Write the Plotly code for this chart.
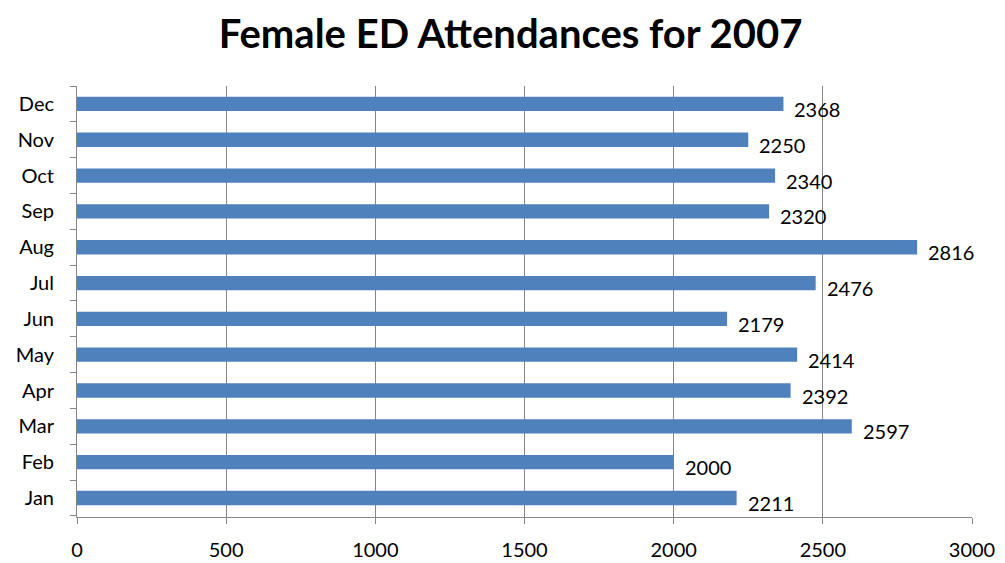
import plotly.graph_objects as go

months = ["Jan", "Feb", "Mar", "Apr", "May", "Jun", "Jul", "Aug", "Sep", "Oct", "Nov", "Dec"]
attendances = [2211, 2000, 2597, 2392, 2414, 2179, 2476, 2816, 2320, 2340, 2250, 2368]
x_ticks = [0, 500, 1000, 1500, 2000, 2500, 3000]

font_family = "Lato, 'Open Sans', sans-serif"

fig = go.Figure()
fig.add_trace(go.Bar(
    x=attendances, y=months, orientation="h",
    marker=dict(color="#4F81BD", line=dict(width=0)),
    width=0.4,
))

for m, v in zip(months, attendances):
    fig.add_annotation(x=v, y=m, text=str(v), showarrow=False,
                       xanchor="left", yanchor="middle", xshift=9, yshift=-5,
                       font=dict(family=font_family, size=20, color="black"))

fig.update_layout(
    width=1005, height=563,
    margin=dict(l=77, r=33, t=86, b=46, autoexpand=False),
    paper_bgcolor="white", plot_bgcolor="white",
    title=dict(text="<b>Female ED Attendances for 2007</b>", x=0.508, xanchor="center",
               y=0.94, yanchor="middle",
               font=dict(family=font_family, size=40, color="black")),
    showlegend=False,
    bargap=0.6,
)
fig.update_xaxes(
    range=[0, 3000], tickvals=x_ticks, showgrid=True, gridcolor="#868686", gridwidth=1,
    showline=True, linecolor="#868686", linewidth=1,
    ticks="outside", ticklen=6, tickcolor="#868686",
    tickfont=dict(family=font_family, size=20, color="black"),
    zeroline=False, mirror=False, ticklabelstandoff=9, automargin=False,
)
fig.update_yaxes(
    categoryorder="array", categoryarray=months,
    showgrid=False, showline=True, linecolor="#868686", linewidth=1,
    ticks="outside", ticklen=6, tickcolor="#868686", tickson="boundaries",
    tickfont=dict(family=font_family, size=20, color="black"),
    ticklabelstandoff=18, automargin=False,
)

fig.write_html("out.html")
